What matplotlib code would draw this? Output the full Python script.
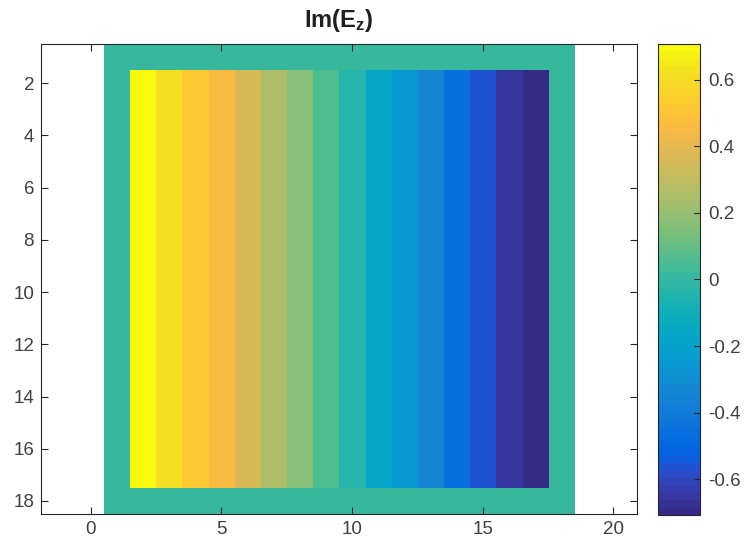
import numpy as np
import matplotlib
matplotlib.use("Agg")
import matplotlib.pyplot as plt
from matplotlib.colors import ListedColormap

# parula colormap (64 entries)
parula_data = [
[0.2081,0.1663,0.5292],[0.2116,0.1898,0.5777],[0.2123,0.2138,0.6270],[0.2081,0.2386,0.6771],
[0.1959,0.2645,0.7279],[0.1707,0.2919,0.7792],[0.1253,0.3242,0.8303],[0.0591,0.3598,0.8683],
[0.0117,0.3875,0.8820],[0.0060,0.4086,0.8828],[0.0165,0.4266,0.8786],[0.0329,0.4430,0.8720],
[0.0498,0.4586,0.8641],[0.0629,0.4737,0.8554],[0.0723,0.4887,0.8467],[0.0779,0.5040,0.8384],
[0.0793,0.5200,0.8312],[0.0749,0.5375,0.8263],[0.0641,0.5570,0.8240],[0.0488,0.5772,0.8228],
[0.0343,0.5966,0.8199],[0.0265,0.6137,0.8135],[0.0239,0.6287,0.8038],[0.0231,0.6418,0.7913],
[0.0228,0.6535,0.7768],[0.0267,0.6642,0.7607],[0.0384,0.6743,0.7436],[0.0590,0.6838,0.7254],
[0.0843,0.6928,0.7062],[0.1133,0.7015,0.6859],[0.1453,0.7098,0.6646],[0.1801,0.7177,0.6424],
[0.2178,0.7250,0.6193],[0.2586,0.7317,0.5954],[0.3022,0.7376,0.5712],[0.3482,0.7424,0.5473],
[0.3953,0.7459,0.5244],[0.4420,0.7481,0.5033],[0.4871,0.7491,0.4840],[0.5300,0.7491,0.4661],
[0.5709,0.7485,0.4494],[0.6099,0.7473,0.4337],[0.6473,0.7456,0.4188],[0.6834,0.7435,0.4044],
[0.7184,0.7411,0.3905],[0.7525,0.7384,0.3768],[0.7858,0.7356,0.3633],[0.8185,0.7327,0.3498],
[0.8507,0.7299,0.3360],[0.8824,0.7274,0.3217],[0.9139,0.7258,0.3063],[0.9450,0.7261,0.2886],
[0.9739,0.7314,0.2666],[0.9938,0.7455,0.2403],[0.9990,0.7653,0.2164],[0.9955,0.7861,0.1967],
[0.9880,0.8066,0.1794],[0.9789,0.8271,0.1633],[0.9697,0.8481,0.1475],[0.9626,0.8705,0.1309],
[0.9589,0.8949,0.1132],[0.9598,0.9218,0.0948],[0.9661,0.9514,0.0755],[0.9763,0.9831,0.0538]]
parula = ListedColormap(parula_data, name="parula")

# data: 18x18 grid, border = 0, inner columns 2..17 have these values
n_rows = 18
n_cols = 18
inner_col_values = [0.707, 0.61, 0.53, 0.45, 0.36, 0.26, 0.17, 0.06,
                    -0.04, -0.16, -0.26, -0.35, -0.46, -0.56, -0.65, -0.707]
border_value = 0.0
clim = (-0.7071, 0.7071)

title_text = r"$\mathbf{Im(E_z)}$"
y_ticks = [2, 4, 6, 8, 10, 12, 14, 16, 18]
x_ticks = [0, 5, 10, 15, 20]
cb_ticks = [-0.6, -0.4, -0.2, 0, 0.2, 0.4, 0.6]
cb_ticklabels = ["-0.6", "-0.4", "-0.2", "0", "0.2", "0.4", "0.6"]

Z = np.full((n_rows, n_cols), border_value)
Z[1:n_rows-1, 1:n_cols-1] = np.array(inner_col_values)[None, :]

plt.rcParams['font.family'] = ['Liberation Sans', 'DejaVu Sans']
plt.rcParams['mathtext.fontset'] = 'custom'
plt.rcParams['mathtext.rm'] = 'Liberation Sans'
plt.rcParams['mathtext.bf'] = 'Liberation Sans:bold'

W, H = 745, 553
fig = plt.figure(figsize=(W/100, H/100), dpi=100)
ax = fig.add_axes([41/W, 1-514/H, (637-41)/W, (514-44)/H])
cax = fig.add_axes([658/W, 1-515/H, (700-658)/W, (515-44)/H])

im = ax.imshow(Z, cmap=parula, vmin=clim[0], vmax=clim[1],
               extent=(0.5, n_cols+0.5, n_rows+0.5, 0.5), aspect='auto',
               interpolation='nearest')
ax.set_xlim(-1.9, 20.9)
ax.set_ylim(18.5, 0.5)
ax.set_xticks(x_ticks)
ax.set_yticks(y_ticks)
tc = '#262626'
ax.tick_params(direction='in', top=True, right=True, length=5, width=0.8,
               colors=tc, labelsize=13.5, labelcolor='#404040', pad=5)
for s in ax.spines.values():
    s.set_color(tc)
    s.set_linewidth(0.8)
ax.set_title(title_text, fontsize=17, color='#202020', pad=12)

cb = fig.colorbar(im, cax=cax)
cb.set_ticks(cb_ticks)
cb.set_ticklabels(cb_ticklabels)
cax.tick_params(direction='in', length=4, width=0.8, colors=tc,
                labelsize=13.5, labelcolor='#404040', pad=6)
cb.outline.set_edgecolor(tc)
cb.outline.set_linewidth(0.8)

fig.savefig("out.png", dpi=100)
